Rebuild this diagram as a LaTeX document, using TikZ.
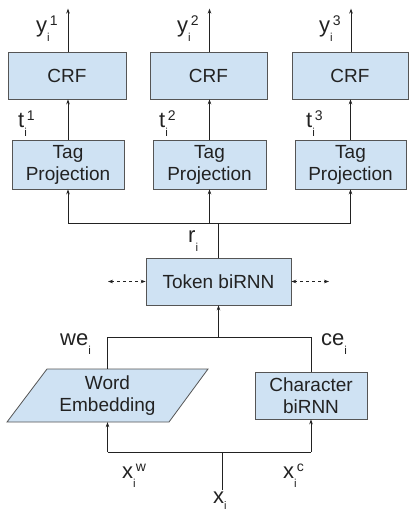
\documentclass[tikz,border=0pt]{standalone}
\usepackage{fontspec}
\setmainfont{Liberation Sans}
\usetikzlibrary{arrows.meta,calc}
\definecolor{boxfill}{HTML}{CFE2F3}
\definecolor{boxline}{HTML}{555555}
\definecolor{ink}{HTML}{222222}
% variable with a lowered index and a raised tag
\newcommand{\vlab}[3]{{\fontsize{22}{24}\selectfont #1}\raisebox{-9pt}{\fontsize{11.5}{12}\selectfont #2}\raisebox{7pt}{\fontsize{14}{14}\selectfont #3}}
\begin{document}
\begin{tikzpicture}[x=1pt,y=-1pt,
  every node/.style={font=\fontsize{19}{22}\selectfont, text=ink},
  block/.style={draw=boxline, line width=0.8pt, fill=boxfill, inner sep=0pt, align=center, minimum height=47},
  wire/.style={draw=ink, line width=0.8pt},
  arr/.style={wire, -{Stealth[length=5pt,width=3.6pt]}},
  darr/.style={wire, dashed, dash pattern=on 3pt off 3pt, {Stealth[length=5pt,width=3.6pt]}-{Stealth[length=5pt,width=3.6pt]}},
  lab/.style={anchor=base west, inner sep=0pt}]
\useasboundingbox (0,0) rectangle (409,513);

% CRF layer
\node[block, minimum width=118] (crf1) at (67,75.5) {CRF};
\node[block, minimum width=117] (crf2) at (208.5,75.5) {CRF};
\node[block, minimum width=116] (crf3) at (350,75.5) {CRF};

% tag projections
\node[block, minimum width=112, minimum height=49] (tag1) at (68,164.5) {Tag\\Projection};
\node[block, minimum width=113, minimum height=49] (tag2) at (209.5,164.5) {Tag\\Projection};
\node[block, minimum width=111, minimum height=49] (tag3) at (350.5,164.5) {Tag\\Projection};

% token level recurrent layer
\node[block, minimum width=145] (tok) at (218.5,281.5) {Token biRNN};

% character level recurrent layer
\node[block, minimum width=112] (chr) at (311,395.5) {Character\\biRNN};

% word embedding lookup (parallelogram)
\draw[draw=boxline, line width=0.8pt, fill=boxfill] (7,422) -- (169,422) -- (208,369) -- (47,369) -- cycle;
\node[inner sep=0pt, minimum height=53, align=center] (wrd) at (107.5,395.5) {Word\\Embedding};

% outputs
\foreach \i in {1,2,3} {
  \coordinate (out\i) at ($(crf\i.north)+(1,0)$);
  \coordinate (top\i) at ($(crf\i.north)+(1,-43)$);
  \draw[arr] (out\i) -- (top\i);
  \draw[arr] (tag\i.north) -- (tag\i.north |- crf\i.south);
}

% fan-out from the token layer
\coordinate (rbus) at (218.5,223);
\draw[wire] (tok.north) -- (rbus);
\draw[wire] (tag1.south |- rbus) -- (tag3.south |- rbus);
\foreach \i in {1,2,3} \draw[arr] (tag\i.south |- rbus) -- (tag\i.south);

% recurrence arrows
\coordinate (lft) at (108,281.5);
\coordinate (rgt) at (329,281.5);
\draw[darr] (lft) -- (tok.west);
\draw[darr] (tok.east) -- (rgt);

% concatenation into the token layer
\coordinate (cbus) at (218.5,337);
\draw[wire] (wrd.north) -- (wrd.north |- cbus) -- (chr.north |- cbus) -- (chr.north);
\draw[arr] (cbus) -- (tok.south);

% input split
\coordinate (xin) at (222,490);
\coordinate (xbus) at (222,452);
\draw[wire] (xin) -- (xbus);
\draw[wire] (wrd.south |- xbus) -- (chr.south |- xbus);
\draw[arr] (wrd.south |- xbus) -- (wrd.south);
\draw[arr] (chr.south |- xbus) -- (chr.south);

% labels
\node[lab] (ly1) at (36,33) {\vlab{y}{i}{1}};
\node[lab] (ly2) at (177,33) {\vlab{y}{i}{2}};
\node[lab] (ly3) at (319,33) {\vlab{y}{i}{3}};
\node[lab] (lt1) at (18,128) {\vlab{t}{i}{1}};
\node[lab] (lt2) at (159,128) {\vlab{t}{i}{2}};
\node[lab] (lt3) at (306,128) {\vlab{t}{i}{3}};
\node[lab] (lr) at (188,242) {\vlab{r}{i}{}};
\node[lab] (lwe) at (60,345) {\vlab{we}{i}{}};
\node[lab] (lce) at (321,345) {\vlab{ce}{i}{}};
\node[lab] (lxw) at (122,478) {\vlab{x}{i}{w}};
\node[lab] (lxc) at (283,478) {\vlab{x}{i}{c}};
\node[lab] (lx) at (213,503) {{\fontsize{22}{24}\selectfont x}\raisebox{-6pt}{\fontsize{11}{11}\selectfont i}};
\end{tikzpicture}
\end{document}
